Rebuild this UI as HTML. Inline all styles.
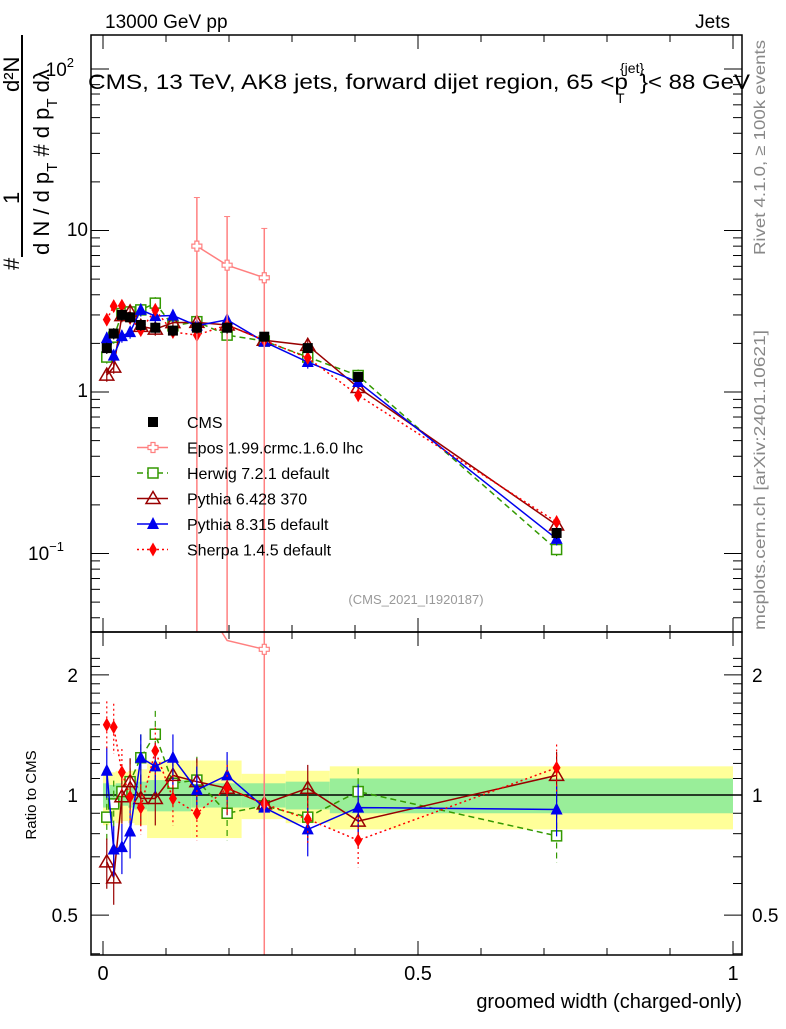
<!DOCTYPE html>
<html><head><meta charset="utf-8">
<style>
body{margin:0;background:#fff;}
svg{font-family:"Liberation Sans",sans-serif;}
</style></head>
<body>
<svg id="c" width="786" height="1024" viewBox="0 0 786 1024" xmlns="http://www.w3.org/2000/svg">
<defs>
<clipPath id="cm"><rect x="91" y="35" width="651" height="597"/></clipPath>
<clipPath id="cr"><rect x="91" y="632" width="651" height="323"/></clipPath>
</defs>
<g id="bands" clip-path="url(#cr)"></g>
<g id="main" clip-path="url(#cm)"></g>
<g id="ratio" clip-path="url(#cr)"></g>
<g id="axes"></g>
<text x="105" y="28" font-size="19">13000 GeV pp</text>
<text x="730" y="28" font-size="19" text-anchor="end">Jets</text>
<g>
<text x="88" y="89" font-size="21" textLength="540" lengthAdjust="spacingAndGlyphs">CMS, 13 TeV, AK8 jets, forward dijet region, 65 &lt;p</text>
<text x="620" y="73" font-size="14">{jet}</text>
<text x="640" y="89" font-size="21" textLength="110" lengthAdjust="spacingAndGlyphs">}&lt; 88 GeV</text>
<text x="616" y="103" font-size="14">T</text>
</g>
<text x="416" y="604" font-size="13" fill="#999" text-anchor="middle">(CMS_2021_I1920187)</text>
<text transform="translate(765,255) rotate(-90)" font-size="16" fill="#888" textLength="215" lengthAdjust="spacingAndGlyphs">Rivet 4.1.0, ≥ 100k events</text>
<text transform="translate(765,630) rotate(-90)" font-size="16" fill="#888" textLength="300" lengthAdjust="spacingAndGlyphs">mcplots.cern.ch [arXiv:2401.10621]</text>
<text x="742" y="1008" font-size="20" text-anchor="end">groomed width (charged-only)</text>
<text transform="translate(36,795) rotate(-90)" font-size="15" text-anchor="middle">Ratio to CMS</text>
<g font-size="22">
<line x1="22" y1="35" x2="22" y2="257" stroke="#000" stroke-width="2"/>
<text transform="translate(19,270) rotate(-90)">#</text>
<text transform="translate(19,204) rotate(-90)">1</text>
<text transform="translate(19,92) rotate(-90)">d²N</text>
<text transform="translate(49,255) rotate(-90)">d N / d p<tspan font-size="15" dy="8">T</tspan><tspan dy="-8"> # d p</tspan><tspan font-size="15" dy="8">T</tspan><tspan dy="-8">  dλ</tspan></text>
</g>
<g id="legend"></g>
</svg>
<script>
const xs   =[0.006,0.017,0.030,0.043,0.060,0.083,0.111,0.149,0.197,0.256,0.325,0.405,0.720];
const cms  =[1.87,2.30,3.00,2.90,2.60,2.50,2.40,2.50,2.50,2.20,1.87,1.24,0.134];
const cmsErr=[0.08,0.08,0.08,0.08,0.08,0.08,0.08,0.08,0.08,0.06,0.06,0.07,0.08];
const rHerwig=[0.88,0.95,1.02,1.08,1.24,1.42,1.07,1.09,0.90,0.94,0.88,1.02,0.79];
const rPy6  =[0.68,0.62,0.99,1.08,0.98,0.98,1.12,1.08,1.04,0.95,1.04,0.86,1.12];
const rPy8  =[1.15,0.73,0.74,0.81,1.24,1.18,1.24,1.03,1.12,0.93,0.82,0.93,0.92];
const rSherpa=[1.50,1.48,1.14,0.99,0.93,1.29,0.98,0.90,1.04,0.95,0.87,0.77,1.17];
const eposX=[0.149,0.197,0.256];
const eposV=[8.0,6.1,5.1];
const eposUp=[16,12.2,10.3];
const binEdges=[0,0.01,0.02,0.03,0.04,0.05,0.07,0.10,0.14,0.22,0.29,0.36,0.45,1.0];
const yelUp=[0.16,0.14,0.15,0.14,0.15,0.16,0.22,0.22,0.22,0.13,0.15,0.18,0.18];
const grnUp=[0.07,0.06,0.07,0.06,0.07,0.08,0.09,0.09,0.07,0.07,0.08,0.10,0.10];
const mainTicks=[0.1,1,10,100];
const xTicks=[0,0.5,1];

const NS="http://www.w3.org/2000/svg";
const X=v=>103+630*v;
const Y=v=>392-161.5*Math.log10(v);
const R=v=>795-399*Math.log10(v);
function mk(t,a,p){const e=document.createElementNS(NS,t);for(const k in a)e.setAttribute(k,a[k]);p.appendChild(e);return e;}
const gM=document.getElementById('main'),gR=document.getElementById('ratio'),gB=document.getElementById('bands'),gA=document.getElementById('axes'),gL=document.getElementById('legend');

for(let i=0;i<binEdges.length-1;i++){
  const x0=X(binEdges[i]),x1=X(binEdges[i+1]);
  let r=mk('rect',{x:x0,y:R(1+yelUp[i]),width:x1-x0,height:R(1-yelUp[i])-R(1+yelUp[i]),fill:'#ffff99'},gB);
  
  
  r=mk('rect',{x:x0,y:R(1+grnUp[i]),width:x1-x0,height:R(1-grnUp[i])-R(1+grnUp[i]),fill:'#99ee99'},gB);
  
  
}
let ref=mk('line',{x1:91,x2:742,y1:R(1),y2:R(1),stroke:'#000','stroke-width':1.5},gB);



function marker(g,type,x,y,col){
  let e;
  if(type==='sq') e=mk('rect',{x:x-5,y:y-5,width:10,height:10,fill:col},g);
  else if(type==='osq') e=mk('rect',{x:x-5,y:y-5,width:10,height:10,fill:'#fff',stroke:col,'stroke-width':1.5},g);
  else if(type==='otri') e=mk('polygon',{points:`${x},${y-7} ${x-7},${y+5} ${x+7},${y+5}`,fill:'none',stroke:col,'stroke-width':1.5},g);
  else if(type==='tri') e=mk('polygon',{points:`${x},${y-7} ${x-6},${y+5} ${x+6},${y+5}`,fill:col},g);
  else if(type==='dia') e=mk('polygon',{points:`${x},${y-7} ${x-4},${y} ${x},${y+7} ${x+4},${y}`,fill:col},g);
  else if(type==='cross') e=mk('path',{d:`M${x-2},${y-5}h4v3h3v4h-3v3h-4v-3h-3v-4h3z`,fill:'#fff',stroke:col,'stroke-width':1.2},g);
  return e;
}
const series=[
 {name:'Herwig 7.2.1 default',col:'#339900',dash:'6,4',m:'osq',r:rHerwig,key:'herwig'},
 {name:'Pythia 6.428 370',col:'#990000',dash:'',m:'otri',r:rPy6,key:'pythia6'},
 {name:'Pythia 8.315 default',col:'#0000ee',dash:'',m:'tri',r:rPy8,key:'pythia8'},
 {name:'Sherpa 1.4.5 default',col:'#ff0000',dash:'2,3',m:'dia',r:rSherpa,key:'sherpa'}
];
series.forEach(s=>{
  const vals=xs.map((x,i)=>cms[i]*s.r[i]);
  [[gM,vals,Y],[gR,s.r,R]].forEach(([g,v,F])=>{
    let pl=mk('polyline',{points:xs.map((x,i)=>X(x)+','+F(v[i])).join(' '),fill:'none',stroke:s.col,'stroke-width':1.5,'stroke-dasharray':s.dash},g);
    
    
    xs.forEach((x,i)=>{
      const e=0.09*v[i];
      mk('line',{x1:X(x),x2:X(x),y1:F(v[i]+e*(F===R?1.6:1)),y2:F(v[i]-e*(F===R?1.6:1)),stroke:s.col,'stroke-width':1.2,'stroke-dasharray':s.dash},g);
      const m=marker(g,s.m,X(x),F(v[i]),s.col);
      
      
    });
  });
});
// epos main
let epl=mk('polyline',{points:eposX.map((x,i)=>X(x)+','+Y(eposV[i])).join(' '),fill:'none',stroke:'#ff8080','stroke-width':1.5},gM);


eposX.forEach((x,i)=>{
  mk('line',{x1:X(x),x2:X(x),y1:Y(eposUp[i]),y2:640,stroke:'#ff8080','stroke-width':1.5},gM);
  mk('line',{x1:X(x)-3,x2:X(x)+3,y1:Y(eposUp[i]),y2:Y(eposUp[i]),stroke:'#ff8080'},gM);
  const m=marker(gM,'cross',X(x),Y(eposV[i]),'#ff8080');
  
  
});
// epos ratio (only the visible last point)
const eposR=eposV.map((v,i)=>v/cms[xs.indexOf(eposX[i])]);
let erl=mk('polyline',{points:eposX.map((x,i)=>X(x)+','+R(eposR[i])).join(' '),fill:'none',stroke:'#ff8080','stroke-width':1.5},gR);


eposX.forEach((x,i)=>{
  if(eposR[i]>2.4) return;
  mk('line',{x1:X(x),x2:X(x),y1:620,y2:1000,stroke:'#ff8080','stroke-width':1.5},gR);
  const m=marker(gR,'cross',X(x),R(eposR[i]),'#ff8080');
  
  
});
// cms
xs.forEach((x,i)=>{
  mk('line',{x1:X(x),x2:X(x),y1:Y(cms[i]*(1+cmsErr[i])),y2:Y(cms[i]*(1-cmsErr[i])),stroke:'#000','stroke-width':1.2},gM);
  const m=marker(gM,'sq',X(x),Y(cms[i]),'#000');
  
  
});

[[35,632],[632,955]].forEach(([t,b])=>mk('rect',{x:91,y:t,width:651,height:b-t,fill:'none',stroke:'#000','stroke-width':1.5},gA));
function txt(x,y,s,a,fs){const e=mk('text',{x:x,y:y,'font-size':fs||19,'text-anchor':a||'end'},gA);e.textContent=s;return e;}
for(let v=0;v<=1.0001;v+=0.1){
  const big=Math.abs(v*2-Math.round(v*2))<1e-6;const L=big?14:7;
  for(const [y0,d] of [[35,1],[632,-1],[632,1],[955,-1]]) mk('line',{x1:X(v),x2:X(v),y1:y0,y2:y0+d*L,stroke:'#000'},gA);
}
xTicks.forEach(v=>txt(X(v),980,String(v),'middle',20));
for(let e=-2;e<=2;e++)for(let k=1;k<10;k++){
  const v=k*Math.pow(10,e);const y=Y(v);if(y<35||y>632)continue;
  const L=k===1?18:9;
  mk('line',{x1:91,x2:91+L,y1:y,y2:y,stroke:'#000'},gA);
  mk('line',{x1:742,x2:742-L,y1:y,y2:y,stroke:'#000'},gA);
}
txt(88,397,'1');txt(88,236,'10');
let t2=txt(74,76,'10');let s2=mk('tspan',{dy:-9,'font-size':13},t2);s2.textContent='2';
let t3=txt(64,560,'10');let s3=mk('tspan',{dy:-9,'font-size':13},t3);s3.textContent='−1';
for(let k=4;k<=25;k++){
  const v=k/10;if(v>2.2)break;const y=R(v);if(y<632||y>955)continue;
  const big=(v===0.5||v===1||v===2);const L=big?18:9;
  mk('line',{x1:91,x2:91+L,y1:y,y2:y,stroke:'#000'},gA);
  mk('line',{x1:742,x2:742-L,y1:y,y2:y,stroke:'#000'},gA);
}
[[2,'2'],[1,'1'],[0.5,'0.5']].forEach(([v,s])=>{txt(78,R(v)+7,s);txt(752,R(v)+7,s,'start');});

const leg=[{name:'CMS',m:'sq',col:'#000',dash:null,k:'cms'},{name:'Epos 1.99.crmc.1.6.0 lhc',m:'cross',col:'#ff8080',dash:'',k:'epos'}].concat(series.map(s=>({name:s.name,m:s.m,col:s.col,dash:s.dash,k:s.key})));
leg.forEach((l,i)=>{
  const y=422+i*25.5;
  const g=mk('g',{},gL);
  
  
  if(l.dash!==null) mk('line',{x1:137,x2:168,y1:y,y2:y,stroke:l.col,'stroke-width':1.5,'stroke-dasharray':l.dash},g);
  marker(g,l.m,153,y,l.col);
  const t=mk('text',{x:187,y:y+6,'font-size':16},g);t.textContent=l.name;
});
</script>
</body></html>
